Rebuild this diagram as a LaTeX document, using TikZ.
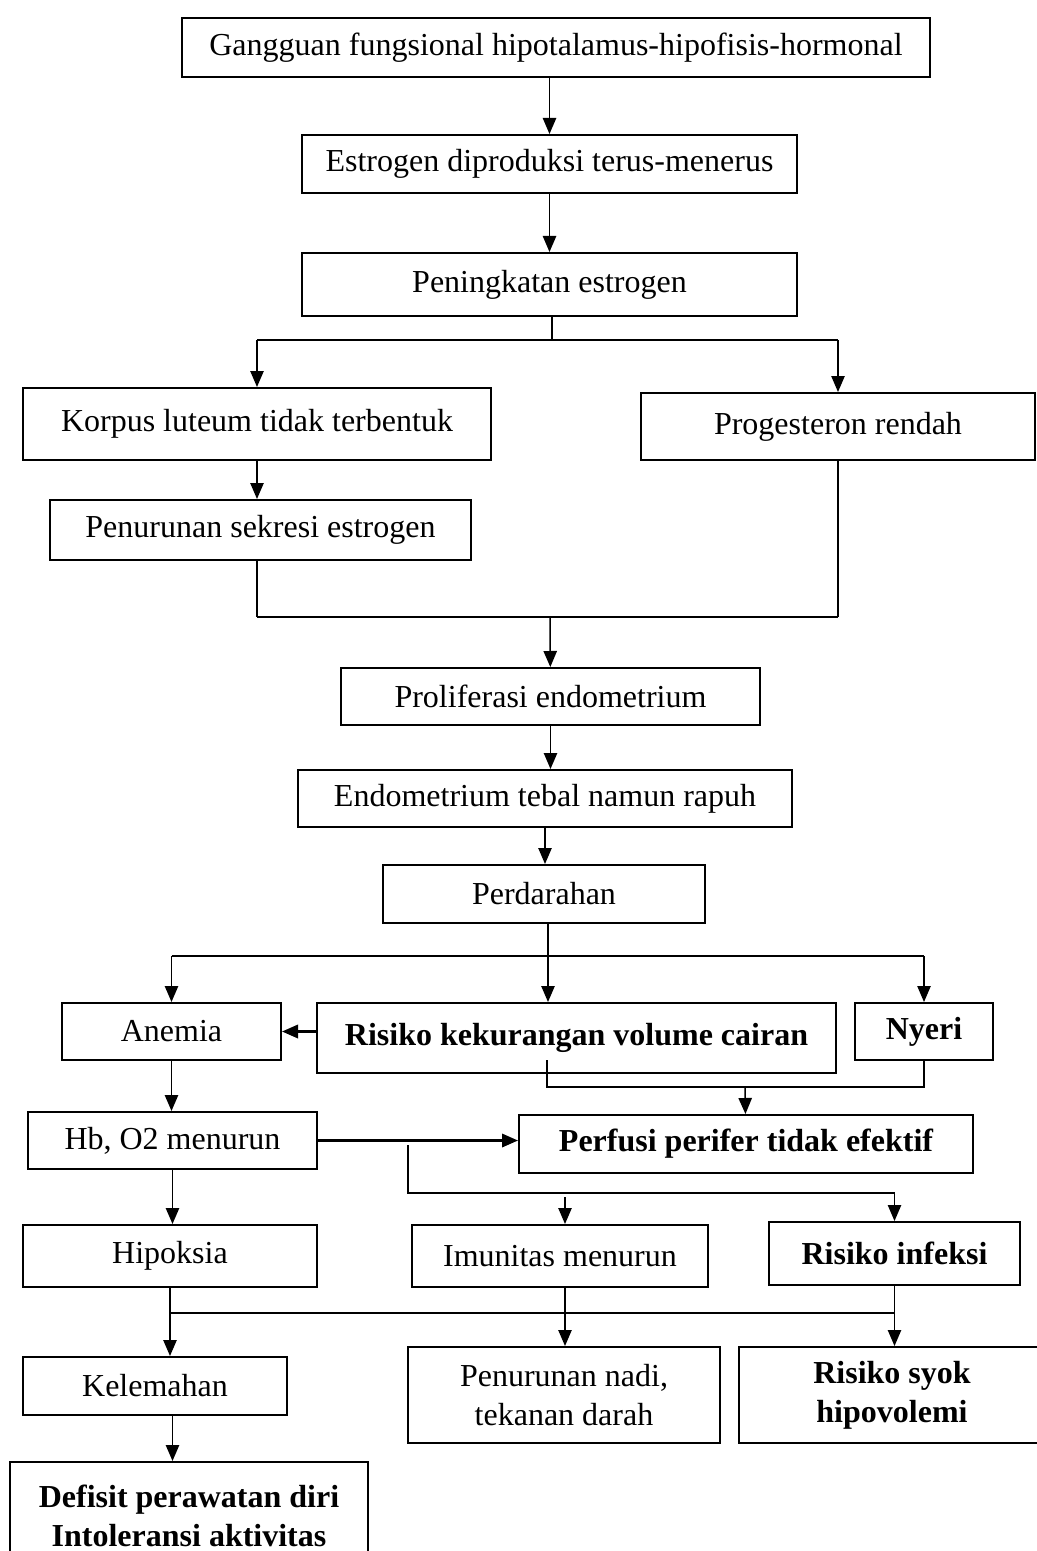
\documentclass[tikz,border=0pt]{standalone}
\usepackage{fontspec}
\setmainfont{Liberation Serif}
\usetikzlibrary{arrows.meta}
\tikzset{
  kotak/.style={draw, line width=0.75pt, inner sep=0pt, align=center, font=\fontsize{12}{14.5}\selectfont},
  garis/.style={line width=0.55pt},
  tebal/.style={line width=0.9pt},
  panah/.style={garis, -{Triangle[length=6pt,width=5pt]}}
}
\def\kotak[#1](#2)(#3,#4)(#5,#6)#7{\node[kotak,#1,minimum width={(#5-#3)*0.375pt},minimum height={(#6-#4)*0.375pt}] (#2) at ({(#3+#5)/2},{(#4+#6)/2}) {#7};}

\begin{document}
\begin{tikzpicture}[x=0.375pt,y=-0.375pt]
			%%%%% START %%%%%
			\useasboundingbox (0,0) rectangle (1037,1551);
			
			\kotak[](gangguan)(182,18)(930,77){Gangguan fungsional hipotalamus-hipofisis-hormonal}
			\kotak[](estrogen)(302,135)(797,193){Estrogen diproduksi terus-menerus}
			\kotak[](peningkatan)(302,253)(797,316){Peningkatan estrogen}
			\kotak[](korpus)(23,388)(491,460){Korpus luteum tidak terbentuk}
			\kotak[](progesteron)(641,393)(1035,460){Progesteron rendah}
			\kotak[](sekresi)(50,500)(471,560){Penurunan sekresi estrogen}
			\kotak[](proliferasi)(341,668)(760,725){Proliferasi endometrium}
			\kotak[](endometrium)(298,770)(792,827){Endometrium tebal namun rapuh}
			\kotak[](perdarahan)(383,865)(705,923){Perdarahan}
			
			\kotak[](anemia)(62,1003)(281,1060){Anemia}
			\kotak[font=\fontsize{12}{14.5}\selectfont\bfseries](risiko)(317,1003)(836,1073){Risiko kekurangan volume cairan}
			\kotak[font=\fontsize{12}{14.5}\selectfont\bfseries](nyeri)(855,1003)(993,1060){Nyeri}
			\kotak[](hb)(28,1112)(317,1169){Hb, O2 menurun}
			\kotak[font=\fontsize{12}{14.5}\selectfont\bfseries](perfusi)(519,1115)(973,1173){Perfusi perifer tidak efektif}
			\kotak[](hipoksia)(23,1225)(317,1287){Hipoksia}
			\kotak[](imunitas)(412,1225)(708,1287){Imunitas menurun}
			\kotak[font=\fontsize{12}{14.5}\selectfont\bfseries](infeksi)(769,1222)(1020,1285){Risiko infeksi}
			\kotak[](kelemahan)(23,1357)(287,1415){Kelemahan}
			\kotak[](nadi)(408,1347)(720,1443){Penurunan nadi,\\tekanan darah}
			\kotak[font=\fontsize{12}{14.5}\selectfont\bfseries](syok)(739,1347)(1045,1443){Risiko syok\\hipovolemi}
			\kotak[font=\fontsize{12}{14.5}\selectfont\bfseries](defisit)(10,1462)(368,1570){Defisit perawatan diri\\Intoleransi aktivitas}
			
			% alur atas
			\draw[panah] (gangguan.south -| estrogen) -- (estrogen.north);
			\draw[panah] (estrogen) -- (peningkatan);
			
			\coordinate (cabang1) at (552,340);
			\draw[garis] (peningkatan.south -| cabang1) -- (cabang1);
			\draw[tebal] (cabang1 -| korpus) -- (cabang1 -| progesteron);
			\draw[panah] (cabang1 -| korpus) -- (korpus);
			\draw[panah] (cabang1 -| progesteron) -- (progesteron);
			\draw[panah] (korpus) -- (korpus |- sekresi.north);
			
			\coordinate (gabung1) at (550,617);
			\draw[garis] (korpus |- sekresi.south) -- (korpus |- gabung1);
			\draw[garis] (progesteron) -- (progesteron |- gabung1);
			\draw[tebal] (korpus |- gabung1) -- (progesteron |- gabung1);
			\draw[panah] (gabung1) -- (proliferasi);
			\draw[panah] (proliferasi) -- (proliferasi |- endometrium.north);
			\draw[panah] (endometrium) -- (endometrium |- perdarahan.north);
			
			% perdarahan
			\coordinate (cabang2) at (548,956);
			\draw[panah] (perdarahan.south -| cabang2) -- (risiko.north -| cabang2);
			\draw[garis] (cabang2 -| anemia) -- (cabang2 -| nyeri);
			\draw[panah] (cabang2 -| anemia) -- (anemia);
			\draw[panah] (cabang2 -| nyeri) -- (nyeri);
			\draw[panah, tebal] (risiko.west |- anemia) -- (anemia.east);
			
			\coordinate (dalam) at (547,1060);
			\coordinate (gabung2) at (745,1087);
			\draw[garis] (dalam) |- (nyeri.south |- gabung2) -- (nyeri.south);
			\draw[panah] (gabung2) -- (perfusi);
			
			\draw[panah] (anemia) -- (anemia |- hb.north);
			\draw[panah, tebal] (hb.east) -- (hb.east -| perfusi.west);
			\draw[panah] (hb) -- (hb |- hipoksia.north);
			
			% imunitas dan infeksi
			\coordinate (pisah) at (408,1145);
			\coordinate (cabang3) at (408,1193);
			\coordinate (imu) at (565,1197);
			\draw[panah] (pisah) |- (cabang3 -| infeksi) -- (infeksi);
			\draw[panah] (imu) -- (imu |- imunitas.north);
			
			% alur bawah
			\coordinate (cabang4) at (170,1313);
			\draw[garis] (hipoksia) -- (hipoksia |- cabang4);
			\draw[tebal] (cabang4) -- (cabang4 -| infeksi);
			\draw[garis] (imunitas.south -| imu) -- (cabang4 -| imu);
			\draw[garis] (infeksi) -- (infeksi |- cabang4);
			\draw[panah] (cabang4) -- (cabang4 |- kelemahan.north);
			\draw[panah] (cabang4 -| imu) -- (nadi.north -| imu);
			\draw[panah] (cabang4 -| infeksi) -- (syok.north -| infeksi);
			\draw[panah] (kelemahan.south -| hb) -- (defisit.north -| hb);
			
			%%%%% END %%%%%
\end{tikzpicture}
\end{document}
